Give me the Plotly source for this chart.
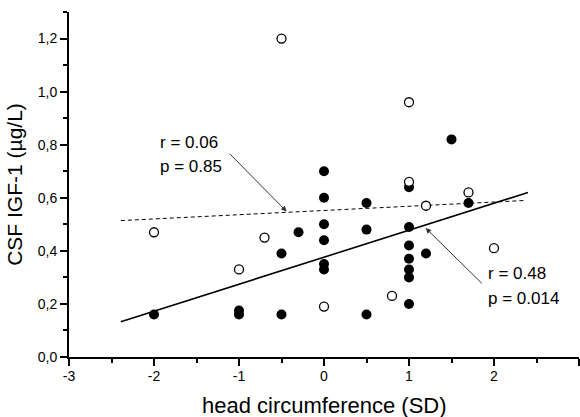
import plotly.graph_objects as go

# Filled circles (group with significant correlation)
filled_x = [-2, -1, -1, -0.5, -0.5, -0.3, 0, 0, 0, 0, 0, 0, 0.5, 0.5, 0.5,
            1, 1, 1, 1, 1, 1, 1, 1.2, 1.5, 1.7]
filled_y = [0.16, 0.16, 0.175, 0.16, 0.39, 0.47, 0.70, 0.60, 0.50, 0.44, 0.35, 0.33,
            0.58, 0.48, 0.16, 0.64, 0.49, 0.42, 0.37, 0.33, 0.30, 0.20, 0.39, 0.82, 0.58]

# Open circles
open_x = [-2, -1, -0.7, -0.5, 0, 0.8, 1, 1, 1.2, 1.7, 2]
open_y = [0.47, 0.33, 0.45, 1.20, 0.19, 0.23, 0.96, 0.66, 0.57, 0.62, 0.41]

# Regression lines (end points)
solid_x = [-2.39, 2.40]
solid_y = [0.133, 0.62]
dash_x = [-2.39, 2.38]
dash_y = [0.514, 0.590]

x_ticks = [-3, -2, -1, 0, 1, 2, 3]
x_tick_labels = ["-3", "-2", "-1", "0", "1", "2", "3"]
y_ticks = [0.0, 0.2, 0.4, 0.6, 0.8, 1.0, 1.2]
y_tick_labels = ["0,0", "0,2", "0,4", "0,6", "0,8", "1,0", "1,2"]

FONT = "Liberation Sans, Arial, sans-serif"

fig = go.Figure()
fig.add_trace(go.Scatter(x=dash_x, y=dash_y, mode="lines",
                         line=dict(color="black", width=1, dash="4px,3px"),
                         showlegend=False, hoverinfo="skip"))
fig.add_trace(go.Scatter(x=solid_x, y=solid_y, mode="lines",
                         line=dict(color="black", width=1.6),
                         showlegend=False, hoverinfo="skip"))
fig.add_trace(go.Scatter(x=filled_x, y=filled_y, mode="markers",
                         marker=dict(symbol="circle", size=10, color="black",
                                     line=dict(color="black", width=0)),
                         showlegend=False))
fig.add_trace(go.Scatter(x=open_x, y=open_y, mode="markers",
                         marker=dict(symbol="circle", size=9, color="white",
                                     line=dict(color="black", width=1.3)),
                         showlegend=False))

axis_common = dict(
    showline=True, linecolor="black", linewidth=2,
    ticks="outside", tickcolor="black", tickwidth=1.5, ticklen=7,
    showgrid=False, zeroline=False,
    tickfont=dict(family=FONT, size=14, color="black"),
)

fig.update_xaxes(
    range=[-3, 3], tickvals=x_ticks, ticktext=x_tick_labels,
    minor=dict(dtick=0.5, ticks="outside", ticklen=4, tickcolor="black", tickwidth=1.5),
    ticklabelstandoff=-2,
    **axis_common,
)
fig.update_yaxes(
    range=[0, 1.3], tickvals=y_ticks, ticktext=y_tick_labels,
    minor=dict(dtick=0.1, ticks="outside", ticklen=4, tickcolor="black", tickwidth=1.5),
    title=dict(text="CSF IGF-1 (µg/L)", font=dict(family=FONT, size=21, color="black"),
               standoff=9),
    ticklabelstandoff=0,
    **axis_common,
)

ann_font = dict(family=FONT, size=17, color="black")
annotations = [
    dict(x=0.5, y=-0.14, xref="paper", yref="paper", text="head circumference (SD)",
         showarrow=False, xanchor="center", yanchor="middle",
         font=dict(family=FONT, size=22, color="black")),
    dict(x=-1.953, y=0.809, text="r = 0.06", showarrow=False, xanchor="left", yanchor="middle", font=ann_font),
    dict(x=-1.953, y=0.718, text="p = 0.85", showarrow=False, xanchor="left", yanchor="middle", font=ann_font),
    dict(x=1.906, y=0.313, text="r = 0.48", showarrow=False, xanchor="left", yanchor="middle", font=ann_font),
    dict(x=1.906, y=0.2215, text="p = 0.014", showarrow=False, xanchor="left", yanchor="middle", font=ann_font),
    dict(x=-0.439, y=0.548, ax=-1.126, ay=0.771, axref="x", ayref="y", text="",
         showarrow=True, arrowhead=2, arrowsize=1.1, arrowwidth=1, arrowcolor="#333"),
    dict(x=1.196, y=0.486, ax=1.874, ay=0.272, axref="x", ayref="y", text="",
         showarrow=True, arrowhead=2, arrowsize=1.1, arrowwidth=1, arrowcolor="#333"),
]

fig.update_layout(
    width=580, height=417,
    margin=dict(l=69, r=1, t=12, b=60),
    paper_bgcolor="white", plot_bgcolor="white",
    annotations=annotations,
    font=dict(family=FONT),
)

fig.write_html("out.html", config={"displayModeBar": False},
               post_script="document.body.style.margin='0';document.body.style.overflow='hidden';")
